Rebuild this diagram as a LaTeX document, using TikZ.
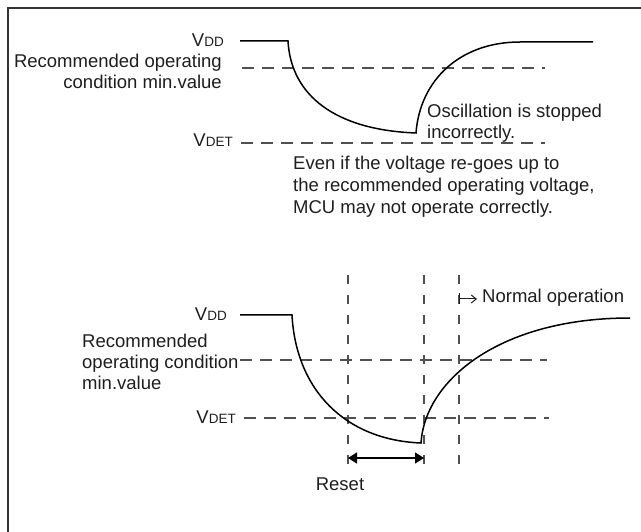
\documentclass[tikz,border=0pt]{standalone}
\usepackage{fontspec}
\setmainfont{Liberation Sans}
\usetikzlibrary{arrows.meta}
\definecolor{framec}{HTML}{333333}
\definecolor{dashc}{HTML}{505050}
\definecolor{txtc}{HTML}{1E1E1E}
\newcommand{\subcaps}[1]{{\fontsize{13.5}{14}\selectfont #1}}
\begin{document}
\begin{tikzpicture}[x=1pt,y=-1pt,
  lbl/.style={inner sep=0pt, text=txtc, font=\fontsize{18.5}{21}\selectfont},
  wave/.style={line width=1.5pt, black},
  hguide/.style={line width=1.2pt, dashc, dash pattern=on 12pt off 8pt},
  vguide/.style={line width=1.2pt, dashc, dash pattern=on 9pt off 11pt},
  frameline/.style={line width=2.5pt, framec},
  spanarrow/.style={line width=1.5pt, black, {Triangle[length=9pt,width=11pt]}-{Triangle[length=9pt,width=11pt]}},
  markarrow/.style={line width=1pt, txtc, {Bar[width=11pt]}-{Straight Barb[length=5pt,width=8pt]}}]
\useasboundingbox (0,0) rectangle (641,532);
% frame
\coordinate (fbl) at (8,532);
\coordinate (ftl) at (8,8);
\coordinate (ftr) at (641,8);
\draw[frameline] (fbl) -- (ftl) -- (ftr);

% ---------- top diagram ----------
% (for multi-line nodes the base anchor is the last line's baseline)
\node[lbl, anchor=base east] (vddA) at (224,47) {V\subcaps{DD}};
\node[lbl, anchor=base east, align=right] (recA) at (222,89) {Recommended operating\\condition min.value};
\node[lbl, anchor=base east] (vdetA) at (233,147) {V\subcaps{DET}};
\node[lbl, anchor=base west, align=left] (oscA) at (427,139) {Oscillation is stopped\\incorrectly.};
\node[lbl, anchor=base west, align=left, font=\fontsize{18.5}{22}\selectfont] (evenA) at (293,214) {Even if the voltage re-goes up to\\the recommended operating voltage,\\MCU may not operate correctly.};

\coordinate (recAs) at (242,68);
\coordinate (recAe) at (545,68);
\coordinate (detAs) at (241,143);
\coordinate (detAe) at (545,143);
\draw[hguide] (recAs) -- (recAe);
\draw[hguide] (detAs) -- (detAe);

\coordinate (tA0) at (240,41);
\coordinate (tA1) at (288,41);
\coordinate (tA2) at (416,133);
\coordinate (tA3) at (520,42);
\coordinate (tA4) at (593,42);
\draw[wave] (tA0) -- (tA1) .. controls (291,96) and (336,130) .. (tA2)
  .. controls (420,80) and (460,42) .. (tA3) -- (tA4);

% ---------- bottom diagram ----------
\node[lbl, anchor=base east] (vddB) at (227,321) {V\subcaps{DD}};
\node[lbl, anchor=base west, align=left] (recB) at (82,389) {Recommended\\operating condition\\min.value};
\node[lbl, anchor=base east] (vdetB) at (236,424) {V\subcaps{DET}};
\node[lbl, anchor=base west] (normB) at (482,303) {Normal operation};
\node[lbl, anchor=base] (resetB) at (340,490) {Reset};

\coordinate (recBs) at (240,360);
\coordinate (recBe) at (547,360);
\coordinate (detBs) at (244,418);
\coordinate (detBe) at (549,418);
\draw[hguide] (recBs) -- (recBe);
\draw[hguide] (detBs) -- (detBe);

\coordinate (v1t) at (348,275);
\coordinate (v1b) at (348,464);
\coordinate (v2t) at (424,275);
\coordinate (v2b) at (424,464);
\coordinate (v3t) at (459,275);
\coordinate (v3b) at (459,464);
\draw[vguide] (v1t) -- (v1b);
\draw[vguide] (v2t) -- (v2b);
\draw[vguide] (v3t) -- (v3b);

\coordinate (tB0) at (240,315);
\coordinate (tB1) at (292,315);
\coordinate (tB2) at (421,443);
\coordinate (tB3) at (630,318);
\draw[wave] (tB0) -- (tB1) .. controls (296,390) and (345,440) .. (tB2)
  .. controls (425,380) and (500,318) .. (tB3);

\coordinate (rs) at (348,458);
\coordinate (re) at (424,458);
\draw[spanarrow] (rs) -- (re);

\coordinate (ns) at (459,299);
\draw[markarrow] (ns) -- ([xshift=-5pt]normB.west |- ns);
\end{tikzpicture}
\end{document}
